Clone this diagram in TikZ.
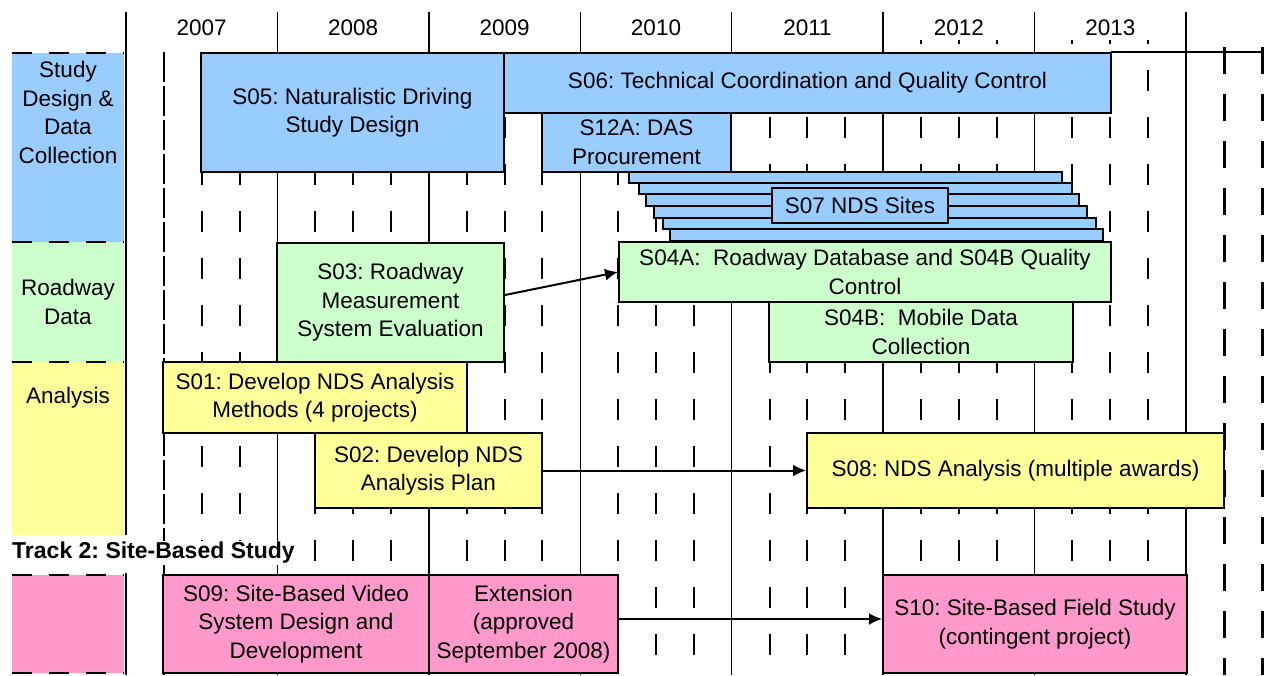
\documentclass[tikz,border=0pt]{standalone}
\usepackage{fontspec}
\setmainfont{Liberation Sans}
\usepackage{xcolor}
\usepackage{tikz}
\usetikzlibrary{shapes,arrows,arrows.meta,positioning,calc}
\frenchspacing

\definecolor{designblue}{HTML}{99CCFF}
\definecolor{roadgreen}{HTML}{CCFFCC}
\definecolor{analysisyellow}{HTML}{FFFF99}
\definecolor{sitepink}{HTML}{FF99CC}

\begin{document}
\begin{tikzpicture}[x=1pt, y=-1pt, every node/.style={font=\fontsize{22.5}{28.5}\selectfont}]
  \useasboundingbox (0,0) rectangle (1264,675);
  % Styles for the project bars
  \tikzstyle{design} = [rectangle, fill=designblue, draw=black, line width=2pt, inner sep=1pt, align=center]
  \tikzstyle{roadway} = [rectangle, fill=roadgreen, draw=black, line width=2pt, inner sep=1pt, align=center]
  \tikzstyle{analysis} = [rectangle, fill=analysisyellow, draw=black, line width=2pt, inner sep=1pt, align=center]
  \tikzstyle{sitestudy} = [rectangle, fill=sitepink, draw=black, line width=2pt, inner sep=1pt, align=center]
  \tikzstyle{trackfill} = [rectangle, inner sep=0pt, minimum width=112pt, align=center]
  \tikzstyle{yearline} = [line width=1.3pt]
  \tikzstyle{quarterline} = [line width=2pt, dash pattern=on 21pt off 26pt]
  \tikzstyle{rowdash} = [line width=2.5pt, dash pattern=on 20pt off 17pt]
  \tikzstyle{flow} = [line width=2pt, ->, >={Latex[length=13pt,width=12pt]}]

  % Time grid
  \foreach \x in {277.4, 428.9, 580.3, 731.7, 883.1, 1034.6, 1186}
    \draw[yearline] (\x,12) -- (\x,675);
  \draw[line width=1.2pt, dash pattern=on 30pt off 4pt] (163.9,52) -- (163.9,675);
  \foreach \x in {201.7, 239.6, 315.3, 353.1, 391.0, 466.7, 504.6, 542.4, 618.1, 656.0, 693.9, 769.6, 807.4, 845.3}
    \draw[quarterline, dash phase=29pt] (\x,52) -- (\x,675);
  \foreach \x in {921.0, 958.9, 996.7, 1072.4, 1110.3, 1148.1}
    \draw[quarterline, dash phase=17pt] (\x,40) -- (\x,675);
  \foreach \x in {1224, 1262}
    \draw[line width=3pt, dash pattern=on 27pt off 20pt] (\x,47) -- (\x,675);
  \draw[line width=2.2pt] (126,12) -- (126,535);
  \draw[line width=2.2pt] (126,573) -- (126,675);
  \draw[line width=2pt] (1111,52) -- (1264,52);

  % Years
  \foreach \yr [count=\k from 0] in {2007,...,2013}
    \node (y\yr) at ({126+151.43*(\k+0.5)}, 28) {\yr};

  % Track labels
  \node[trackfill, fill=designblue, minimum height=189pt] (lblDesign) at (68,147.5) {};
  \node[anchor=north, align=center, inner sep=0pt] (txtDesign) at (68,61) {Study\\Design \&\\Data\\Collection};
  \node[trackfill, fill=roadgreen, minimum height=120pt] (lblRoadway) at (68,302) {Roadway\\Data};
  \node[trackfill, fill=analysisyellow, minimum height=173pt] (lblAnalysis) at (68,448.5) {};
  \node (txtAnalysis) at (68,398) {Analysis};
  \node[trackfill, fill=sitepink, minimum height=98pt] (lblSite) at (68,624) {};
  \foreach \y in {53, 242, 362, 575, 673}
    \draw[rowdash] (12,\y) -- (124,\y);
  \node[anchor=west, fill=white, inner sep=1pt, font=\bfseries\fontsize{23}{26}\selectfont] (track2) at (11,553) {Track 2: Site-Based Study};

  % Study design and data collection
  \node[design, minimum width=303pt, minimum height=119pt] (s05) at (352.5,112.5) {S05: Naturalistic Driving\\Study Design};
  \node[design, minimum width=607pt, minimum height=60pt] (s06) at (807.5,83) {S06: Technical Coordination and Quality Control};
  \node[design, minimum width=189pt, minimum height=59pt] (s12a) at (636.5,142.5) {S12A: DAS\\Procurement};
  \node[design, minimum width=433pt, minimum height=11pt] (s07a) at (845.5,177.5) {};
  \node[design, minimum width=433pt, minimum height=11pt] (s07b) at (855.5,188.5) {};
  \node[design, minimum width=433pt, minimum height=12pt] (s07c) at (862,200) {};
  \node[design, minimum width=433pt, minimum height=12pt] (s07d) at (870.5,212) {};
  \node[design, minimum width=433pt, minimum height=11pt] (s07e) at (879,223.5) {};
  \node[design, minimum width=433pt, minimum height=12pt] (s07f) at (886.5,235) {};
  \node[design, minimum width=176pt, minimum height=35pt] (s07) at (860,205.5) {S07 NDS Sites};

  % Roadway data
  \node[roadway, minimum width=227pt, minimum height=119pt] (s03) at (390.5,302.5) {S03: Roadway\\Measurement\\System Evaluation};
  \node[roadway, minimum width=492pt, minimum height=60pt] (s04a) at (865,272) {S04A:\ \ Roadway Database and S04B Quality\\Control};
  \node[roadway, minimum width=304pt, minimum height=60pt] (s04b) at (921,332) {S04B:\ \ Mobile Data\\Collection};

  % Analysis
  \node[analysis, minimum width=304pt, minimum height=71pt] (s01) at (315,397.5) {S01: Develop NDS Analysis\\Methods (4 projects)};
  \node[analysis, minimum width=227pt, minimum height=75pt] (s02) at (428.5,470.5) {S02: Develop NDS\\Analysis Plan};
  \node[analysis, minimum width=417pt, minimum height=75pt] (s08) at (1015.5,470.5) {S08: NDS Analysis (multiple awards)};

  % Site-based study
  \node[sitestudy, minimum width=266pt, minimum height=98pt] (s09) at (296,624) {S09: Site-Based Video\\System Design and\\Development};
  \node[sitestudy, minimum width=189pt, minimum height=98pt] (ext) at (523.5,624) {Extension\\(approved\\September 2008)};
  \node[sitestudy, minimum width=304pt, minimum height=98pt] (s10) at (1035,624) {S10: Site-Based Field Study\\(contingent project)};

  % Dependencies
  \draw[flow] ([yshift=7.5pt]s03.east) -- (s04a.west);
  \draw[flow] (s02.east) -- (s08.west);
  \draw[flow] ([yshift=5pt]ext.east) -- ([yshift=5pt]s10.west);
\end{tikzpicture}
\end{document}
